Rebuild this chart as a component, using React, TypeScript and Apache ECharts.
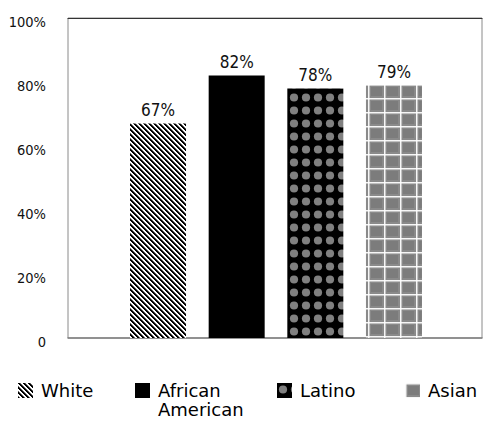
import React, { useEffect, useRef } from "react";
import * as echarts from "echarts";

const categories = ["White", "African American", "Latino", "Asian"];
const values = [67, 82, 78, 79];
const yMin = 0;
const yMax = 100;
const yInterval = 20;

const W = 483;
const H = 422;
const FONT_COND = "'DejaVu Sans Condensed', 'Liberation Sans Narrow', 'DejaVu Sans', sans-serif";
const FONT_LEG = "'DejaVu Sans', sans-serif";

function makeTile(w: number, h: number, draw: (ctx: CanvasRenderingContext2D) => void) {
  const c = document.createElement("canvas");
  c.width = w;
  c.height = h;
  const ctx = c.getContext("2d") as CanvasRenderingContext2D;
  draw(ctx);
  return { image: c, repeat: "repeat", imageWidth: w, imageHeight: h } as any;
}

function makePatterns() {
  const white = makeTile(5, 5, (ctx) => {
    ctx.fillStyle = "#ffffff";
    ctx.fillRect(0, 0, 5, 5);
    for (let y = 0; y < 5; y++) {
      for (let x = 0; x < 5; x++) {
        const d = (((x - y) % 5) + 5) % 5;
        if (d < 2) {
          ctx.fillStyle = "#000000";
          ctx.fillRect(x, y, 1, 1);
        } else if (d === 2) {
          ctx.fillStyle = "#666666";
          ctx.fillRect(x, y, 1, 1);
        }
      }
    }
  });
  const black = "#000000";
  const latino = makeTile(12, 13, (ctx) => {
    ctx.fillStyle = "#000000";
    ctx.fillRect(0, 0, 12, 13);
    ctx.fillStyle = "#808080";
    ctx.beginPath();
    ctx.arc(6, 6.5, 4.1, 0, Math.PI * 2);
    ctx.fill();
  });
  const asian = makeTile(16, 14, (ctx) => {
    ctx.fillStyle = "#8a8a8a";
    ctx.fillRect(0, 0, 16, 14);
    ctx.fillStyle = "#7c7c7c";
    ctx.fillRect(3, 3, 11, 9);
    ctx.fillStyle = "rgba(255,255,255,0.92)";
    ctx.fillRect(0, 0, 16, 1.5);
    ctx.fillRect(0, 0, 1.5, 14);
  });
  return [white, black, latino, asian];
}

const legendLeft = [18, 135, 277, 405];

export default function App() {
  const ref = useRef<HTMLDivElement>(null);
  useEffect(() => {
    if (!ref.current) return;
    const chart = echarts.init(ref.current, null, { renderer: "svg" });
    const patterns = makePatterns();
    const option: any = {
      animation: false,
      backgroundColor: "#ffffff",
      grid: [
        { left: 68, right: 1, top: 18, bottom: 84, show: true, borderColor: "#8a8a8a", borderWidth: 1, containLabel: false },
        { left: 118.7, right: 49.7, top: 18, bottom: 84, containLabel: false },
      ],
      xAxis: [
        { type: "category", gridIndex: 0, data: categories, position: "bottom", axisLine: { show: true, lineStyle: { color: "#808080", width: 1.5 } }, axisTick: { show: false }, axisLabel: { show: false } },
        { type: "category", gridIndex: 1, data: categories, axisLine: { show: false }, axisTick: { show: false }, axisLabel: { show: false } },
        { type: "category", gridIndex: 0, data: categories, position: "top", axisLine: { show: true, lineStyle: { color: "#333333", width: 1 } }, axisTick: { show: false }, axisLabel: { show: false } },
      ],
      yAxis: [
        {
          type: "value", gridIndex: 0, min: yMin, max: yMax, interval: yInterval,
          axisLine: { show: false }, axisTick: { show: false }, splitLine: { show: false },
          axisLabel: {
            margin: 22,
            formatter: (v: number) => "{a|" + (v === 0 ? "0" : v + "%") + "}",
            rich: {
              a: { color: "#111", fontSize: 14.5, fontFamily: FONT_COND, padding: [7, 0, 0, 0] },
            },
          },
        },
        { type: "value", gridIndex: 1, min: yMin, max: yMax, interval: yInterval, show: false, splitLine: { show: false } },
      ],
      legend: categories.map((name, i) => ({
        data: [name],
        left: legendLeft[i],
        top: i === 1 ? 362 : 381,
        padding: 0,
        icon: "rect",
        itemWidth: 15,
        itemHeight: 15,
        selectedMode: false,
        formatter: (n: string) => (n === "African American" ? "\nAfrican\nAmerican" : n),
        textStyle: {
          fontFamily: FONT_LEG,
          fontSize: 18,
          lineHeight: 19,
          color: "#000",
          padding: [0, 0, 0, 3],
        },
      })),
      series: categories.map((name, i) => ({
        type: "bar",
        name,
        xAxisIndex: 1,
        yAxisIndex: 1,
        stack: "all",
        barWidth: 56,
        data: values.map((v, j) => (j === i ? v : "-")),
        itemStyle: { color: patterns[i] },
        label: {
          show: true,
          position: "top",
          distance: 5,
          color: "#111",
          fontSize: 17,
          fontFamily: FONT_COND,
          formatter: (p: any) => p.value + "%",
        },
      })),
    };
    chart.setOption(option);
    return () => chart.dispose();
  }, []);
  return <div ref={ref} style={{ position: "fixed", left: 0, top: 0, width: W, height: H }} />;
}
